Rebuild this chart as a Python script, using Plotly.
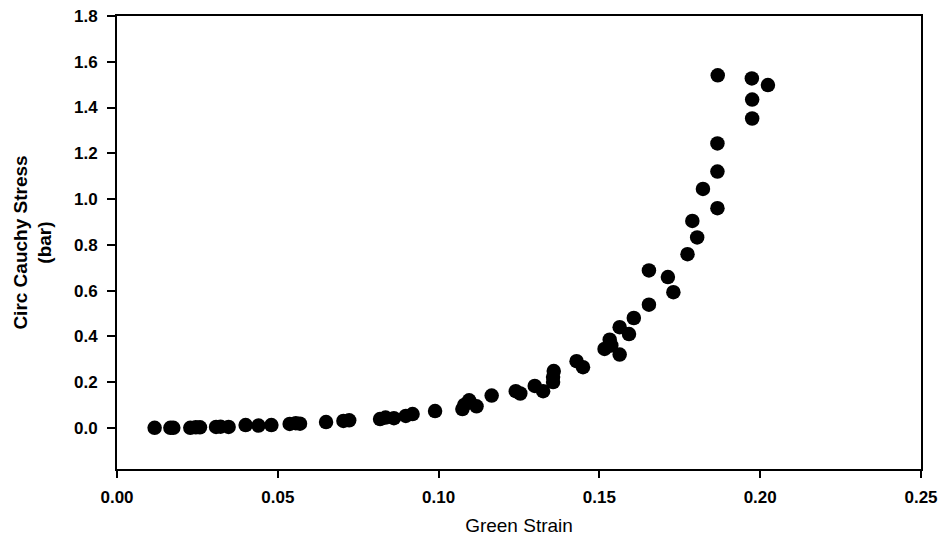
import plotly.graph_objects as go

green_strain = [
    0.0117, 0.0166, 0.0175, 0.0228, 0.0245, 0.0258, 0.0308, 0.0322, 0.0347,
    0.0400, 0.0440, 0.0480, 0.0537, 0.0556, 0.0569, 0.0650, 0.0704, 0.0722,
    0.0818, 0.0835, 0.0861, 0.0898, 0.0919, 0.0989, 0.1074, 0.1080, 0.1095,
    0.1118, 0.1165, 0.1240, 0.1254, 0.1299, 0.1325, 0.1356, 0.1356, 0.1358,
    0.1429, 0.1449, 0.1516, 0.1532, 0.1537, 0.1563, 0.1563, 0.1592, 0.1607,
    0.1654, 0.1654, 0.1713, 0.1730, 0.1774, 0.1789, 0.1804, 0.1822, 0.1867,
    0.1867, 0.1867, 0.1868, 0.1975, 0.1975, 0.1974, 0.2024,
]
circ_stress = [
    0.000, 0.000, 0.000, 0.000, 0.002, 0.002, 0.004, 0.005, 0.004,
    0.012, 0.010, 0.012, 0.017, 0.020, 0.018, 0.025, 0.030, 0.033,
    0.038, 0.045, 0.042, 0.052, 0.060, 0.073, 0.082, 0.100, 0.120,
    0.094, 0.141, 0.160, 0.150, 0.183, 0.160, 0.200, 0.222, 0.248,
    0.291, 0.265, 0.345, 0.385, 0.360, 0.320, 0.440, 0.410, 0.480,
    0.538, 0.688, 0.659, 0.593, 0.759, 0.904, 0.832, 1.044, 0.960,
    1.120, 1.243, 1.541, 1.352, 1.435, 1.527, 1.498,
]
x_ticks = [0.00, 0.05, 0.10, 0.15, 0.20, 0.25]
x_tick_text = ["0.00", "0.05", "0.10", "0.15", "0.20", "0.25"]
y_ticks = [0.0, 0.2, 0.4, 0.6, 0.8, 1.0, 1.2, 1.4, 1.6, 1.8]
y_tick_text = ["0.0", "0.2", "0.4", "0.6", "0.8", "1.0", "1.2", "1.4", "1.6", "1.8"]

FONT = "Liberation Sans, Arial, sans-serif"

fig = go.Figure(
    go.Scatter(
        x=green_strain,
        y=circ_stress,
        mode="markers",
        marker=dict(color="black", size=14.5, line=dict(width=0)),
        showlegend=False,
    )
)

fig.update_layout(
    width=942,
    height=550,
    margin=dict(l=117, r=21, t=16, b=81, autoexpand=False),
    paper_bgcolor="white",
    plot_bgcolor="white",
    font=dict(family=FONT, color="black"),
)

fig.update_xaxes(
    range=[0, 0.25],
    automargin=False,
    tickmode="array",
    tickvals=x_ticks,
    ticktext=x_tick_text,
    ticks="outside",
    ticklen=7,
    tickwidth=1.5,
    tickcolor="black",
    ticklabelstandoff=5,
    tickfont=dict(family=FONT, size=17, color="black", weight="bold"),
    showline=True,
    linewidth=1.8,
    linecolor="black",
    mirror=True,
    showgrid=False,
    zeroline=False,
    title=dict(text="Green Strain", font=dict(family=FONT, size=19, color="black"), standoff=12),
)

fig.update_yaxes(
    range=[-0.18, 1.8],
    automargin=False,
    tickmode="array",
    tickvals=y_ticks,
    ticktext=y_tick_text,
    ticks="outside",
    ticklen=8,
    tickwidth=1.5,
    tickcolor="black",
    ticklabelstandoff=6,
    tickfont=dict(family=FONT, size=17, color="black", weight="bold"),
    showline=True,
    linewidth=1.8,
    linecolor="black",
    mirror=True,
    showgrid=False,
    zeroline=False,
    title=dict(
        text="Circ Cauchy Stress<br>(bar)",
        font=dict(family=FONT, size=19, color="black", weight="bold"),
        standoff=17,
    ),
)

fig.write_html("out.html")
